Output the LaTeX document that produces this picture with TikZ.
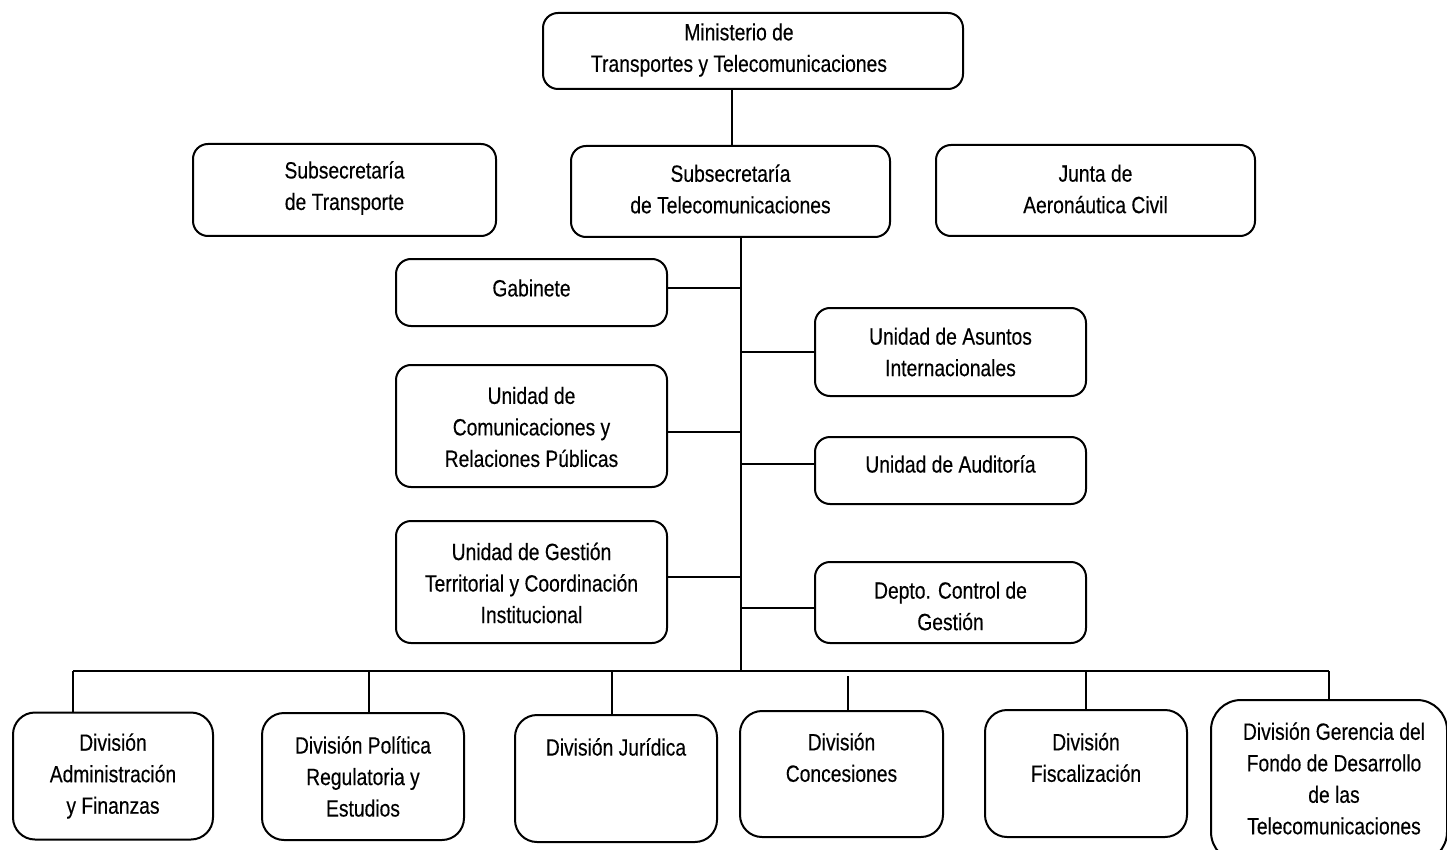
\documentclass[tikz,border=0pt]{standalone}
\usepackage{fontspec}
\setmainfont{Liberation Sans}[FakeStretch=0.82,FakeBold=0.3]
\begin{document}
\begin{tikzpicture}[x=1pt,y=-1pt,
  box/.style={draw, line width=2pt, rounded corners=15pt, inner sep=0pt},
  dbox/.style={draw, line width=2pt, rounded corners=22pt, inner sep=0pt},
  txt/.style={align=center, inner sep=0pt, font=\fontsize{23.5}{31.5}\selectfont},
  conn/.style={line width=2pt}]
\useasboundingbox (0,0) rectangle (1447,850);
\clip (0,0) rectangle (1447,850);
% top
\node[box, minimum width=420pt, minimum height=76pt] (min) at (753,51) {};
\node[txt] at (739,50) {Ministerio de\\Transportes y Telecomunicaciones};
\node[box, minimum width=303pt, minimum height=92pt] (str) at (344.5,190) {};
\node[txt] at (344.5,188) {Subsecretaría\\de Transporte};
\node[box, minimum width=319pt, minimum height=91pt] (stel) at (730.5,191.5) {};
\node[txt] at (730.5,189) {Subsecretaría\\de Telecomunicaciones};
\node[box, minimum width=319pt, minimum height=91pt] (jun) at (1095.5,190.5) {};
\node[txt] at (1095.5,189) {Junta de\\Aeronáutica Civil};
% left units
\node[box, minimum width=271pt, minimum height=67pt] (gab) at (531.5,292.5) {};
\node[txt] at (531.5,288) {Gabinete};
\node[box, minimum width=271pt, minimum height=122pt] (com) at (531.5,426) {};
\node[txt] at (531.5,427) {Unidad de\\Comunicaciones y\\Relaciones Públicas};
\node[box, minimum width=271pt, minimum height=122pt] (ges) at (531.5,582) {};
\node[txt] at (531.5,583) {Unidad de Gestión\\Territorial y Coordinación\\Institucional};
% right units
\node[box, minimum width=271pt, minimum height=88pt] (ai) at (950.5,352) {};
\node[txt] at (950.5,352) {Unidad de Asuntos\\Internacionales};
\node[box, minimum width=271pt, minimum height=67pt] (aud) at (950.5,470.5) {};
\node[txt] at (950.5,464) {Unidad de Auditoría};
\node[box, minimum width=271pt, minimum height=81pt] (cg) at (950.5,602.5) {};
\node[txt] at (950.5,606) {Depto. Control de\\Gestión};
% divisions
\node[dbox, minimum width=200pt, minimum height=127pt] (adm) at (113,776) {};
\node[txt] at (113,776) {División\\Administración\\y Finanzas};
\node[dbox, minimum width=202pt, minimum height=127pt] (pol) at (363,776.5) {};
\node[txt] at (363,776.5) {División Política\\Regulatoria y\\Estudios};
\node[dbox, minimum width=202pt, minimum height=127pt] (jur) at (616,778.5) {};
\node[txt] at (616,747) {División Jurídica};
\node[dbox, minimum width=203pt, minimum height=126pt] (con) at (841.5,774) {};
\node[txt] at (841.5,757.5) {División\\Concesiones};
\node[dbox, minimum width=202pt, minimum height=127pt] (fis) at (1086,773.5) {};
\node[txt] at (1086,757.5) {División\\Fiscalización};
\node[dbox, rounded corners=30pt, minimum width=236pt, minimum height=162pt] (ger) at (1329,781) {};
\node[txt] at (1334,778.5) {División Gerencia del\\Fondo de Desarrollo\\de las\\Telecomunicaciones};
% connectors
\coordinate (tb) at (741,671);
\draw[conn] (stel.north -| 732,0) -- (min.south -| 732,0);
\draw[conn] (stel.south -| tb) -- (tb);
\draw[conn] (gab.east) ++(0,-4.5) coordinate (c1) -- (c1 -| tb);
\draw[conn] (com.east) ++(0,6) coordinate (c2) -- (c2 -| tb);
\draw[conn] (ges.east) ++(0,-5) coordinate (c3) -- (c3 -| tb);
\draw[conn] (ai.west) coordinate (c4) -- (c4 -| tb);
\draw[conn] (aud.west) ++(0,-6.5) coordinate (c5) -- (c5 -| tb);
\draw[conn] (cg.west) ++(0,5.5) coordinate (c6) -- (c6 -| tb);
\coordinate (d1) at (73,671);
\coordinate (d2) at (369,671);
\coordinate (d3) at (612,671);
\coordinate (d4) at (848,676);
\coordinate (d5) at (1086,671);
\coordinate (d6) at (1329,671);
\draw[conn] (d1) -- (d6);
\draw[conn] (d1) -- (d1 |- adm.north);
\draw[conn] (d2) -- (d2 |- pol.north);
\draw[conn] (d3) -- (d3 |- jur.north);
\draw[conn] (d4) -- (d4 |- con.north);
\draw[conn] (d5) -- (d5 |- fis.north);
\draw[conn] (d6) -- (d6 |- ger.north);
\end{tikzpicture}
\end{document}
